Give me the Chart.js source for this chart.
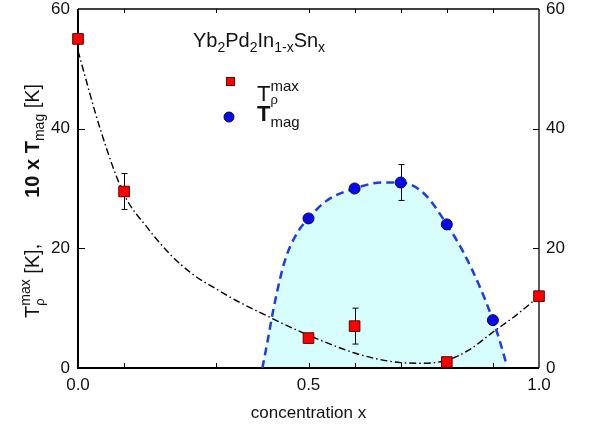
<!DOCTYPE html>
<html>
<head>
<meta charset="utf-8">
<script src="https://cdn.jsdelivr.net/npm/chart.js@4/dist/chart.umd.min.js"></script>
<style>
  body { margin: 0; background: #fff; }
  #wrap { width: 597px; height: 430px; }
</style>
</head>
<body>
<div id="wrap"><canvas id="phaseChart" width="597" height="430"></canvas></div>
<script>
// ─── Data ───────────────────────────────────────────────────────────────────
const rhoX = [0.0, 0.1, 0.5, 0.6, 0.8, 1.0];
const rhoMax = [55, 29.5, 5, 7, 1, 12];
const rhoErr = [0, 3, 0, 3, 0, 0];

const magX = [0.5, 0.6, 0.7, 0.8, 0.9];
const magT10 = [25, 30, 31, 24, 8];
const magErr = [0, 0, 3, 0, 0];

// dash-dot guide through T_rho^max
const guideX = [0.0, 0.05, 0.1, 0.15, 0.2, 0.25, 0.3, 0.35, 0.4, 0.45, 0.5, 0.55, 0.6, 0.65, 0.7, 0.75, 0.8, 0.85, 0.9, 0.95, 1.0];
const guideY = [53, 39.5, 29, 23.5, 19, 15.6, 13.2, 11, 9.1, 7.2, 5.5, 3.9, 2.5, 1.5, 0.9, 0.8, 1.3, 3.1, 6, 8.8, 12];

// dashed dome through 10 x T_mag
const domeX = [0.40, 0.41, 0.427, 0.449, 0.475, 0.5, 0.54, 0.6, 0.66, 0.7, 0.75, 0.8, 0.835, 0.872, 0.9, 0.915, 0.928];
const domeY = [0, 4, 11, 18, 22.5, 25, 28, 30, 31, 31, 29.2, 24, 19.5, 13.5, 8, 4.5, 1];

const xTickMarks = [0.1, 0.3, 0.5, 0.6, 0.7, 0.8, 0.9];
const yTickMarks = [20, 40];

const FONT = '"Liberation Sans", Arial, Helvetica, sans-serif';

// ─── Rich text helper (sub / superscripts) ──────────────────────────────────
function drawRich(ctx, parts, x, y) {
  let cx = x;
  for (const p of parts) {
    if (p.sup !== undefined || p.sub !== undefined) {
      let w = 0;
      if (p.sup) {
        ctx.font = `${p.supSize || 14}px ${FONT}`;
        ctx.fillText(p.sup, cx, y + (p.supDy || -9));
        w = Math.max(w, ctx.measureText(p.sup).width);
      }
      if (p.sub) {
        ctx.font = `${p.subSize || 14}px ${FONT}`;
        ctx.fillText(p.sub, cx, y + (p.subDy || 5));
        w = Math.max(w, ctx.measureText(p.sub).width);
      }
      cx += w;
      continue;
    }
    ctx.font = `${p.bold ? 'bold ' : ''}${p.size}px ${FONT}`;
    ctx.fillText(p.t, cx, y + (p.dy || 0));
    cx += ctx.measureText(p.t).width + (p.gap || 0);
  }
  return cx;
}

// ─── Frame with inward ticks ────────────────────────────────────────────────
const framePlugin = {
  id: 'frame',
  beforeDatasetsDraw(chart) {
    const { ctx, chartArea: a, scales } = chart;
    ctx.save();
    ctx.strokeStyle = '#000';
    ctx.lineWidth = 1.3;
    ctx.beginPath();
    ctx.moveTo(a.left, a.top); ctx.lineTo(a.right, a.top);
    ctx.moveTo(a.right, a.top); ctx.lineTo(a.right, a.bottom);
    ctx.stroke();
    ctx.lineWidth = 2;
    ctx.beginPath();
    ctx.moveTo(a.left, a.top); ctx.lineTo(a.left, a.bottom); ctx.lineTo(a.right, a.bottom);
    ctx.stroke();

    ctx.lineWidth = 1;
    ctx.beginPath();
    xTickMarks.forEach(v => {
      const px = Math.round(scales.x.getPixelForValue(v)) + 0.5;
      ctx.moveTo(px, a.bottom); ctx.lineTo(px, a.bottom - 5);
      ctx.moveTo(px, a.top); ctx.lineTo(px, a.top + 4);
    });
    yTickMarks.forEach(v => {
      const py = Math.round(scales.y.getPixelForValue(v)) + 0.5;
      ctx.moveTo(a.left, py); ctx.lineTo(a.left + 7, py);
      ctx.moveTo(a.right, py); ctx.lineTo(a.right - 6, py);
    });
    ctx.stroke();
    ctx.restore();
  },
  beforeDatasetDraw(chart, args) {
    const ds = chart.data.datasets[args.index];
    if (!ds.errors) return;
    const { ctx, scales } = chart;
    ctx.save();
    ctx.strokeStyle = '#000';
    ctx.lineWidth = 1;
    ds.data.forEach((p, i) => {
      const e = ds.errors[i];
      if (!e) return;
      const px = Math.round(scales.x.getPixelForValue(p.x)) + 0.5;
      const top = scales.y.getPixelForValue(p.y + e);
      const bot = scales.y.getPixelForValue(p.y - e);
      ctx.beginPath();
      ctx.moveTo(px, top); ctx.lineTo(px, bot);
      ctx.moveTo(px - 3, top); ctx.lineTo(px + 3, top);
      ctx.moveTo(px - 3, bot); ctx.lineTo(px + 3, bot);
      ctx.stroke();
    });
    ctx.restore();
  }
};

// ─── Annotation text, legend and y title ────────────────────────────────────
const textPlugin = {
  id: 'texts',
  afterDraw(chart) {
    const ctx = chart.ctx;
    ctx.save();
    ctx.fillStyle = '#111';
    ctx.textBaseline = 'alphabetic';
    ctx.textAlign = 'left';

    // compound name
    drawRich(ctx, [
      { t: 'Yb', size: 20 }, { t: '2', size: 14, dy: 5 },
      { t: 'Pd', size: 20 }, { t: '2', size: 14, dy: 5 },
      { t: 'In', size: 20 }, { t: '1-x', size: 14, dy: 5 },
      { t: 'Sn', size: 20 }, { t: 'x', size: 14, dy: 5 }
    ], 193, 47);

    // legend keys
    ctx.fillStyle = '#ff0000';
    ctx.strokeStyle = '#600000';
    ctx.lineWidth = 1;
    ctx.fillRect(226, 77, 9, 9);
    ctx.strokeRect(226.5, 77.5, 8, 8);
    ctx.fillStyle = '#0a0ae8';
    ctx.strokeStyle = '#000050';
    ctx.beginPath(); ctx.arc(229, 117, 5, 0, Math.PI * 2); ctx.fill(); ctx.stroke();

    ctx.fillStyle = '#111';
    drawRich(ctx, [
      { t: 'T', size: 22 },
      { sup: 'max', supSize: 15, supDy: -10, sub: 'ρ', subSize: 13, subDy: 3 }
    ], 257, 101);
    drawRich(ctx, [
      { t: 'T', size: 22, bold: true },
      { t: 'mag', size: 15, dy: 6 }
    ], 257, 121);

    // rotated y title
    ctx.translate(39, 318);
    ctx.rotate(-Math.PI / 2);
    drawRich(ctx, [
      { t: 'T', size: 20 },
      { sup: 'max', supSize: 14, supDy: -9, sub: 'ρ', subSize: 13, subDy: 5 },
      { t: ' [K],', size: 20, gap: 46 },
      { t: '10 x T', size: 20, bold: true },
      { t: 'mag', size: 14, dy: 5 },
      { t: ' [K]', size: 20 }
    ], 0, 0);
    ctx.restore();
  }
};

const toPts = (xs, ys) => xs.map((x, i) => ({ x, y: ys[i] }));

const yTicks = {
  stepSize: 20,
  color: '#111',
  font: { family: FONT, size: 17 },
};
const noGrid = { display: false, drawTicks: false, tickLength: 0 };
const fixWidth = w => s => { s.width = w; s.paddingTop = 0; s.paddingBottom = 0; };

new Chart(document.getElementById('phaseChart'), {
  type: 'line',
  data: {
    datasets: [
      {
        label: 'T_rho^max',
        type: 'scatter',
        data: toPts(rhoX, rhoMax),
        errors: rhoErr,
        pointStyle: 'rect',
        pointRadius: 7.5,
        backgroundColor: '#ff0000',
        borderColor: '#600000',
        borderWidth: 1,
        clip: false,
        order: 0,
      },
      {
        label: '10 x T_mag',
        type: 'scatter',
        data: toPts(magX, magT10),
        errors: magErr,
        pointStyle: 'circle',
        pointRadius: 5.5,
        backgroundColor: '#0a0ae8',
        borderColor: '#000050',
        borderWidth: 1,
        clip: false,
        order: 1,
      },
      {
        label: 'guide',
        data: toPts(guideX, guideY),
        borderColor: '#000',
        borderWidth: 1.4,
        borderDash: [7, 3, 1.5, 3],
        cubicInterpolationMode: 'monotone',
        pointRadius: 0,
        fill: false,
        order: 2,
      },
      {
        label: 'dome',
        data: toPts(domeX, domeY),
        borderColor: '#1e3ce6',
        borderWidth: 2.5,
        borderDash: [8, 5],
        backgroundColor: '#d8fdfd',
        cubicInterpolationMode: 'monotone',
        pointRadius: 0,
        fill: 'origin',
        order: 3,
      }
    ]
  },
  options: {
    responsive: false,
    animation: false,
    layout: { padding: { top: 9, left: 0, right: 0, bottom: 0 } },
    plugins: {
      legend: { display: false },
      tooltip: { enabled: false },
      filler: { drawTime: 'beforeDatasetsDraw' },
    },
    scales: {
      x: {
        type: 'linear',
        min: 0,
        max: 1,
        ticks: {
          stepSize: 0.5,
          padding: 7,
          color: '#111',
          font: { family: FONT, size: 17 },
          callback: v => v.toFixed(1),
        },
        grid: noGrid,
        border: { display: false },
        title: {
          display: true,
          text: 'concentration x',
          color: '#111',
          font: { family: FONT, size: 17 },
          padding: { top: 6, bottom: 6 },
        },
        afterFit: s => { s.height = 62; },
      },
      y: {
        min: 0,
        max: 60,
        ticks: { ...yTicks, padding: 8 },
        grid: noGrid,
        border: { display: false },
        afterFit: fixWidth(78),
      },
      y2: {
        position: 'right',
        min: 0,
        max: 60,
        ticks: { ...yTicks, padding: 7 },
        grid: noGrid,
        border: { display: false },
        afterFit: fixWidth(58),
      }
    }
  },
  plugins: [framePlugin, textPlugin]
});
</script>
</body>
</html>
